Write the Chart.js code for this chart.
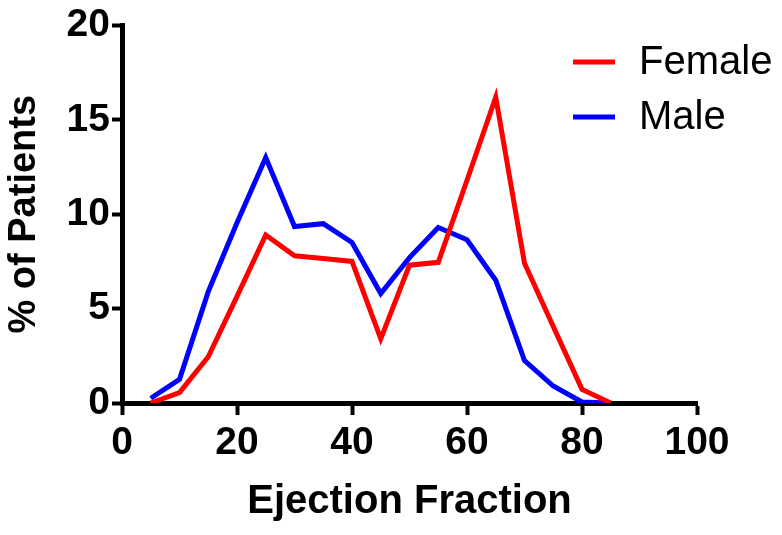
<!DOCTYPE html>
<html>
<head>
<meta charset="utf-8">
<script src="https://cdn.jsdelivr.net/npm/chart.js@4.4.1/dist/chart.umd.min.js"></script>
<style>
  html, body { margin: 0; padding: 0; background: #fff; }
  #wrap { width: 782px; height: 535px; }
</style>
</head>
<body>
<div id="wrap"><canvas id="efChart" width="782" height="535"></canvas></div>
<script>
// ejection fraction bins (x) and % of patients per bin
var efBins = [5, 10, 15, 20, 25, 30, 35, 40, 45, 50, 55, 60, 65, 70, 75, 80, 85];
var femalePct = [0, 0.55, 2.45, 5.65, 8.9, 7.8, 7.65, 7.5, 3.4, 7.3, 7.45, 11.8, 16.2, 7.4, 4.05, 0.72, 0];
var malePct = [0.25, 1.25, 5.9, 9.55, 13.0, 9.35, 9.5, 8.5, 5.8, 7.7, 9.3, 8.65, 6.5, 2.25, 0.9, 0.05, 0];
var xTicks = [0, 20, 40, 60, 80, 100];
var yTicks = [0, 5, 10, 15, 20];

var FONT = "'Liberation Sans', Arial, sans-serif";

function toPoints(xs, ys) {
  return xs.map(function (x, i) { return { x: x, y: ys[i] }; });
}

// legend sits over the top right corner, partly past the x axis end
var cornerLegend = {
  id: 'cornerLegend',
  afterDraw: function (chart) {
    var ctx = chart.ctx;
    ctx.save();
    ctx.font = '40px ' + FONT;
    ctx.textBaseline = 'middle';
    ctx.textAlign = 'left';
    chart.data.datasets.forEach(function (ds, i) {
      var y = 62 + i * 55;
      ctx.strokeStyle = ds.borderColor;
      ctx.lineWidth = 5;
      ctx.beginPath();
      ctx.moveTo(573, y);
      ctx.lineTo(615, y);
      ctx.stroke();
      ctx.fillStyle = '#000';
      ctx.fillText(ds.label, 639, y + 1);
    });
    ctx.restore();
  }
};

new Chart(document.getElementById('efChart'), {
  type: 'line',
  data: {
    datasets: [{
      label: 'Female',
      data: toPoints(efBins, femalePct),
      borderColor: '#ff0000',
      borderWidth: 5,
      pointRadius: 0,
      tension: 0,
      fill: false
    }, {
      label: 'Male',
      data: toPoints(efBins, malePct),
      borderColor: '#0000ff',
      borderWidth: 5,
      pointRadius: 0,
      tension: 0,
      fill: false
    }]
  },
  options: {
    responsive: false,
    animation: false,
    layout: { padding: { left: 0, top: 24, right: 85, bottom: 0 } },
    plugins: { legend: { display: false }, tooltip: { enabled: false } },
    scales: {
      x: {
        type: 'linear',
        min: 0,
        max: 100,
        afterBuildTicks: function (s) { s.ticks = xTicks.map(function (v) { return { value: v }; }); },
        afterFit: function (s) { s.height = 132; },
        grid: { drawOnChartArea: false, drawTicks: true, tickLength: 12, tickWidth: 4, tickColor: '#000' },
        border: { display: true, color: '#000', width: 5 },
        ticks: { color: '#000', padding: 5, maxRotation: 0, font: { family: FONT, size: 39, weight: 'bold' } },
        title: {
          display: true,
          text: 'Ejection Fraction',
          color: '#000',
          padding: { top: 0, bottom: 9 },
          font: { family: FONT, size: 40, weight: 'bold' }
        }
      },
      y: {
        min: 0,
        max: 20,
        afterBuildTicks: function (s) { s.ticks = yTicks.map(function (v) { return { value: v }; }); },
        afterFit: function (s) { s.width = 122; },
        grid: { drawOnChartArea: false, drawTicks: true, tickLength: 10, tickWidth: 4, tickColor: '#000' },
        border: { display: true, color: '#000', width: 5 },
        ticks: { color: '#000', padding: 2, font: { family: FONT, size: 39, weight: 'bold' } },
        title: {
          display: true,
          text: '% of Patients',
          color: '#000',
          padding: { top: 2, bottom: 0 },
          font: { family: FONT, size: 38, weight: 'bold' }
        }
      }
    }
  },
  plugins: [cornerLegend]
});
</script>
</body>
</html>
